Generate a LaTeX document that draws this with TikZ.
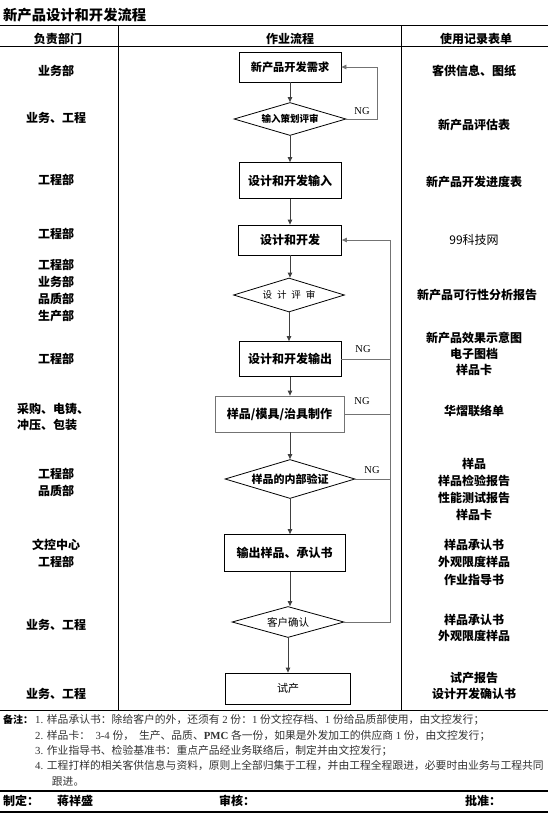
\documentclass[tikz,border=0pt]{standalone}
\usepackage{fontspec}
\setmainfont{Noto Sans CJK SC}
\newfontfamily\tnr{Liberation Serif}
\usetikzlibrary{shapes.geometric,arrows.meta}
\newcommand\fsz[2]{\fontsize{#1}{#2}\selectfont}
\tikzset{
  cell/.style={font=\bfseries\fsz{12}{17}, align=center, inner sep=0pt},
  hdr/.style={font=\bfseries\fsz{12}{14}, inner sep=0pt},
  procbox/.style={draw=black, line width=0.8pt, inner sep=0pt, font=\bfseries\fsz{12}{14}},
  decis/.style={diamond, draw=black, line width=0.8pt, aspect=3.4, inner sep=0pt},
  tip/.style={-{Triangle[length=5pt,width=4.5pt]}},
  flow/.style={draw=black!75, line width=0.8pt, tip},
  loopline/.style={draw=black!55, line width=0.8pt},
  ngl/.style={font=\tnr\fsz{10.5}{12}, inner sep=0pt},
  note/.style={font=\fsz{10.8}{13}, inner sep=0pt, text=black!80, anchor=west},
  rule/.style={draw=black, line width=#1},
}
\begin{document}
\begin{tikzpicture}[x=1pt,y=-1pt]
\useasboundingbox (0,0) rectangle (548,814);
\fill[white] (0,0) rectangle (548,814);

% table rules
\draw[rule=0.9pt] (0,25) -- (548,25);
\draw[rule=1pt] (0,46) -- (548,46);
\draw[rule=1pt] (0,710) -- (548,710);
\draw[rule=1.3pt] (0,791) -- (548,791);
\draw[rule=2pt] (0,812) -- (548,812);
\draw[rule=0.8pt] (118,25) -- (118,710);
\draw[rule=0.8pt] (401,25) -- (401,710);

% title and headers
\node[font=\bfseries\fsz{14.3}{16}, inner sep=0pt, anchor=west] (title) at (3,15) {新产品设计和开发流程};
\node[hdr] (h1) at (58,38.5) {负责部门};
\node[hdr] (h2) at (290,38.5) {作业流程};
\node[hdr] (h3) at (476,38.5) {使用记录表单};

% flow nodes
\node[procbox, minimum width=102pt, minimum height=30pt, font=\bfseries\fsz{11.2}{13}] (n1) at (290,67) {新产品开发需求};
\node[decis, minimum width=112pt, minimum height=33pt, font=\bfseries\fsz{9.5}{11}] (d1) at (290,119) {输入策划评审};
\node[procbox, minimum width=102pt, minimum height=36pt] (n2) at (290,180.5) {设计和开发输入};
\node[procbox, minimum width=103pt, minimum height=30pt] (n3) at (290,240) {设计和开发};
\node[decis, minimum width=111pt, minimum height=34pt, font=\fsz{9.5}{11}] (d2) at (289,295) {设\hspace{5pt}计\hspace{5pt}评\hspace{5pt}审};
\node[procbox, minimum width=102pt, minimum height=35pt] (n4) at (290,359) {设计和开发输出};
\node[procbox, draw=black!55, minimum width=129pt, minimum height=36pt] (n5) at (279.5,414) {样品/模具/治具制作};
\node[decis, minimum width=130pt, minimum height=39pt, font=\bfseries\fsz{11}{13}] (d3) at (290,479) {样品的内部验证};
\node[procbox, minimum width=121pt, minimum height=37pt] (n6) at (284.5,553) {输出样品、承认书};
\node[decis, minimum width=112pt, minimum height=31pt, font=\fsz{10.5}{12}] (d4) at (288,622) {客户确认};
\node[procbox, minimum width=125pt, minimum height=31pt, font=\fsz{11}{13}] (n7) at (288,688.5) {试产};

% main flow arrows
\draw[flow] (n1.south) -- (n1.south |- d1.north);
\draw[flow] (d1.south) -- (d1.south |- n2.north);
\draw[flow] (n2.south) -- (n2.south |- n3.north);
\draw[flow] (n3.south) -- (n3.south |- d2.north);
\draw[flow] (d2.south) -- (d2.south |- n4.north);
\draw[flow] (n4.south) -- (n4.south |- n5.north);
\draw[flow] (n4.south |- n5.south) -- (n4.south |- d3.north);
\draw[flow] (d3.south) -- (d3.south |- n6.north);
\draw[flow] (d3.south |- n6.south) -- (d3.south |- d4.north);
\draw[flow] (d4.south) -- (d4.south |- n7.north);

% NG loops
\coordinate (lx1) at (377,0);
\coordinate (lx2) at (390,0);
\draw[loopline, tip] (d1.east) -- (d1.east -| lx1) -- (lx1 |- n1.east) -- (n1.east);
\draw[loopline, tip] (d4.east) -- (d4.east -| lx2) -- (lx2 |- n3.east) -- (n3.east);
\draw[loopline] (n4.east) -- (n4.east -| lx2);
\draw[loopline] (n5.east) -- (n5.east -| lx2);
\draw[loopline] (d3.east) -- (d3.east -| lx2);
\node[ngl] (ng1) at (362,111) {NG};
\node[ngl] (ng2) at (363,349) {NG};
\node[ngl] (ng3) at (362,401) {NG};
\node[ngl] (ng4) at (372,470.5) {NG};

% left column
\node[cell] (l1) at (56,71) {业务部};
\node[cell] (l2) at (56,118) {业务、工程};
\node[cell] (l3) at (56,180) {工程部};
\node[cell] (l4) at (56,234) {工程部};
\node[cell] (l5) at (56,290.5) {工程部\\业务部\\品质部\\生产部};
\node[cell] (l6) at (56,359) {工程部};
\node[cell, align=left, anchor=west, font=\bfseries\fsz{12}{16}] (l7) at (17,416.7) {采购、电铸、\\冲压、包装};
\node[cell] (l8) at (56,482.7) {工程部\\品质部};
\node[cell] (l9) at (56,553.7) {文控中心\\工程部};
\node[cell] (l10) at (56,625) {业务、工程};
\node[cell] (l11) at (56,694) {业务、工程};

% right column
\node[cell] (r1) at (474,71) {客供信息、图纸};
\node[cell] (r2) at (474,125) {新产品评估表};
\node[cell] (r3) at (474,182) {新产品开发进度表};
\node[font=\fsz{12}{14}, inner sep=0pt] (r4) at (474,240) {99科技网};
\node[cell] (r5) at (477,295) {新产品可行性分析报告};
\node[cell, font=\bfseries\fsz{12}{16}] (r6) at (474,353.5) {新产品效果示意图\\电子图档\\样品卡};
\node[cell] (r7) at (474,411) {华熠联络单};
\node[cell] (r8) at (474,489) {样品\\样品检验报告\\性能测试报告\\样品卡};
\node[cell, font=\bfseries\fsz{12}{17.5}] (r9) at (474,562.4) {样品承认书\\外观限度样品\\作业指导书};
\node[cell, font=\bfseries\fsz{12}{16}] (r10) at (474,628) {样品承认书\\外观限度样品};
\node[cell, font=\bfseries\fsz{12}{16.5}] (r11) at (474,686) {试产报告\\设计开发确认书};

% notes
\node[note, text=black, font=\bfseries\fsz{10}{12}] (b0) at (3,720) {备注：};
\node[note] (b1) at (35,720) {{\tnr 1. }样品承认书：除给客户的外，还须有{\tnr\ 2 }份：{\tnr 1 }份文控存档、{\tnr 1 }份给品质部使用，由文控发行；};
\node[note] (b2) at (35,736) {{\tnr 2. }样品卡：{\tnr\ \ 3-4 }份，\ \ 生产、品质、{\tnr\bfseries PMC }各一份，如果是外发加工的供应商{\tnr\ 1 }份，由文控发行；};
\node[note] (b3) at (35,750.7) {{\tnr 3. }作业指导书、检验基准书：重点产品经业务联络后，制定并由文控发行；};
\node[note] (b4) at (35,765.7) {{\tnr 4. }工程打样的相关客供信息与资料，原则上全部归集于工程，并由工程全程跟进，必要时由业务与工程共同};
\node[note] (b5) at (51.7,781) {跟进。};

% signature row
\node[hdr, anchor=west] (s1) at (3,801) {制定：};
\node[hdr, anchor=west] (s2) at (57,801) {蒋祥盛};
\node[hdr, anchor=west] (s3) at (219,801) {审核：};
\node[hdr, anchor=west] (s4) at (465,801) {批准：};
\end{tikzpicture}
\end{document}
